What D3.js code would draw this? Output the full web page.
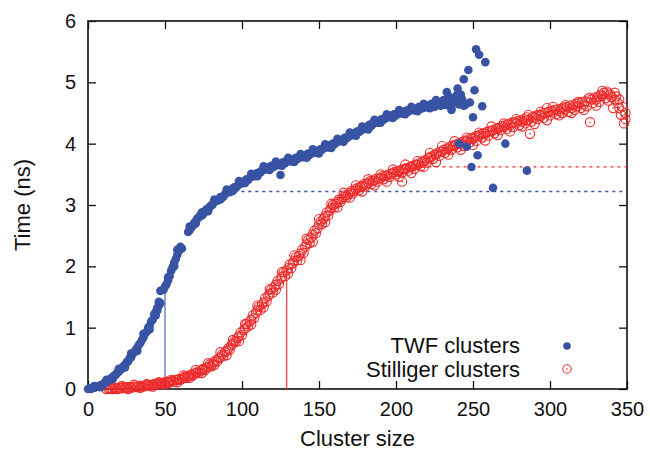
<!DOCTYPE html>
<html>
<head>
<meta charset="utf-8">
<script src="https://cdn.jsdelivr.net/npm/d3@7"></script>
<style>
  body { margin: 0; background: #fff; }
  svg text { font-family: "Liberation Sans", Arial, Helvetica, sans-serif; fill: #111; }
</style>
</head>
<body>
<svg id="chart"></svg>
<script>
// cluster size vs time
const xTicks = [0, 50, 100, 150, 200, 250, 300, 350];
const yTicks = [0, 1, 2, 3, 4, 5, 6];

const seriesNames = ["TWF clusters", "Stilliger clusters"];

const twfPoints = [
  [0,0.00],[1,0.01],[2,0.00],[3,0.02],[4,0.02],[5,0.03],[6,0.04],[7,0.04],[8,0.06],[9,0.07],
  [10,0.08],[11,0.10],[12,0.11],[13,0.14],[14,0.15],[15,0.18],[16,0.19],[17,0.22],[18,0.23],[19,0.27],
  [20,0.28],[21,0.32],[22,0.33],[23,0.37],[24,0.39],[25,0.43],[26,0.45],[27,0.50],[28,0.52],[29,0.57],
  [30,0.60],[31,0.64],[32,0.67],[33,0.72],[34,0.75],[35,0.80],[36,0.84],[37,0.90],[38,0.93],[39,1.00],
  [40,1.03],[41,1.10],[42,1.13],[43,1.22],[44,1.26],[45,1.32],[45,1.28],[46,1.36],[47,1.40],[47,1.60],
  [49,1.62],[50,1.67],[51,1.71],[52,1.77],[53,1.84],[54,1.93],[55,1.99],[56,2.06],[57,2.12],[58,2.19],
  [59,2.25],[60,2.32],[61,2.29],[65,2.56],[66,2.59],[67,2.63],[68,2.66],[69,2.71],[70,2.74],
  [71,2.78],[72,2.80],[73,2.84],[74,2.83],[75,2.86],[76,2.90],[77,2.93],[78,2.93],[79,2.97],[80,2.99],
  [81,3.01],[82,3.05],[83,3.07],[84,3.07],[85,3.09],[86,3.13],[87,3.12],[88,3.14],[89,3.18],[90,3.20],
  [91,3.22],[92,3.21],[93,3.24],[94,3.27],[95,3.29],[96,3.28],[97,3.31],[98,3.34],[99,3.36],[100,3.35],
  [101,3.37],[102,3.40],[103,3.42],[104,3.41],[105,3.44],[106,3.46],[107,3.48],[108,3.47],[109,3.50],[110,3.52],
  [111,3.53],[112,3.53],[113,3.56],[114,3.58],[115,3.59],[116,3.58],[117,3.61],[118,3.62],[119,3.64],[120,3.62],
  [121,3.63],[122,3.66],[123,3.67],[124,3.65],[125,3.49],[126,3.69],[127,3.70],[128,3.68],[129,3.71],[130,3.72],
  [131,3.73],[132,3.71],[133,3.74],[134,3.75],[135,3.77],[136,3.75],[137,3.77],[138,3.78],[139,3.80],[140,3.78],
  [141,3.81],[142,3.82],[143,3.84],[144,3.82],[145,3.84],[146,3.86],[147,3.87],[148,3.85],[149,3.88],[150,3.89],
  [151,3.91],[152,3.90],[153,3.93],[154,3.94],[155,3.95],[156,3.94],[157,3.97],[158,3.98],[159,4.00],[160,3.99],
  [161,4.01],[162,4.03],[163,4.05],[164,4.04],[165,4.06],[166,4.08],[167,4.10],[168,4.09],[169,4.11],[170,4.13],
  [171,4.15],[172,4.14],[173,4.16],[174,4.18],[175,4.20],[176,4.19],[177,4.21],[178,4.23],[179,4.25],[180,4.24],
  [181,4.27],[182,4.29],[183,4.31],[184,4.29],[185,4.32],[186,4.34],[187,4.36],[188,4.34],[189,4.37],[190,4.39],
  [191,4.40],[192,4.39],[193,4.41],[194,4.43],[195,4.45],[196,4.43],[197,4.45],[198,4.47],[199,4.48],[200,4.46],
  [201,4.49],[202,4.50],[203,4.52],[204,4.49],[205,4.51],[206,4.53],[207,4.54],[208,4.52],[209,4.55],[210,4.55],
  [211,4.57],[212,4.54],[213,4.56],[214,4.58],[215,4.60],[216,4.57],[217,4.58],[218,4.60],[219,4.62],[220,4.59],
  [221,4.61],[222,4.63],[223,4.65],[224,4.62],[225,4.60],[226,4.66],[227,4.68],[228,4.64],[229,4.62],[230,4.69],
  [231,4.71],[232,4.63],[233,4.66],[234,4.72],[235,4.75],[236,4.58],[237,4.70],[238,4.74],[239,4.78],[240,4.68],
  [241,4.64],[242,4.76],[243,4.72],[244,4.62],
  // repeat runs, a little off the main band
  [4,0.05],[8,0.03],[12,0.15],[16,0.16],[20,0.33],[24,0.35],[28,0.58],[32,0.62],[36,0.90],[40,0.97],
  [44,1.20],[46,1.42],[52,1.82],[56,2.00],[58,2.27],[66,2.65],[70,2.70],[74,2.88],[78,2.90],[82,3.09],
  [86,3.09],[90,3.25],[94,3.23],[98,3.39],[102,3.36],[106,3.51],[110,3.47],[114,3.63],[118,3.57],[122,3.71],
  [126,3.64],[130,3.77],[134,3.70],[138,3.83],[142,3.77],[146,3.91],[150,3.84],[154,3.99],[158,3.93],[162,4.08],
  [166,4.03],[170,4.18],[174,4.13],[178,4.28],[182,4.23],[186,4.39],[190,4.34],[194,4.48],[198,4.42],[202,4.55],
  [206,4.48],[210,4.60],[214,4.53],[218,4.65],[222,4.58],[226,4.71],[230,4.64],[234,4.77],[238,4.68],[242,4.80],
  // large clusters, few samples
  [233,4.84],[236,4.55],[240,4.90],[241,4.00],[242,4.79],[244,5.05],[245,4.63],[246,3.95],[247,5.20],[248,4.67],
  [249,3.62],[250,4.43],[251,4.87],[252,5.54],[253,3.81],[254,5.45],[256,4.61],[258,5.33],[263,3.28],[271,4.00],
  [285,3.56]
];

const stilPoints = [
  [12,0.00],[13,0.01],[14,0.01],[15,0.01],[16,0.00],[17,0.02],[18,0.01],[19,0.00],[20,0.02],[21,0.02],
  [22,0.01],[23,0.03],[24,0.02],[25,0.02],[26,0.03],[27,0.03],[28,0.02],[29,0.04],[30,0.04],[31,0.03],
  [32,0.03],[33,0.05],[34,0.05],[35,0.04],[36,0.04],[37,0.06],[38,0.06],[39,0.07],[40,0.05],[41,0.06],
  [42,0.07],[43,0.08],[44,0.08],[45,0.09],[46,0.07],[47,0.10],[48,0.09],[49,0.09],[50,0.11],[51,0.12],
  [52,0.10],[53,0.11],[54,0.13],[55,0.14],[56,0.12],[57,0.15],[58,0.15],[59,0.16],[60,0.15],[61,0.17],
  [62,0.18],[63,0.20],[64,0.18],[65,0.20],[66,0.22],[67,0.24],[68,0.22],[69,0.25],[70,0.26],[71,0.28],
  [72,0.26],[73,0.30],[74,0.31],[75,0.33],[76,0.31],[77,0.35],[78,0.36],[79,0.40],[80,0.37],[81,0.41],
  [82,0.44],[83,0.47],[84,0.45],[85,0.50],[86,0.52],[87,0.56],[88,0.54],[89,0.60],[90,0.62],[91,0.66],
  [92,0.64],[93,0.71],[94,0.74],[95,0.78],[96,0.77],[97,0.83],[98,0.86],[99,0.92],[100,0.88],[101,0.96],
  [102,0.99],[103,1.06],[104,1.02],[105,1.10],[106,1.13],[107,1.20],[108,1.16],[109,1.24],[110,1.28],[111,1.34],
  [112,1.29],[113,1.38],[114,1.41],[115,1.48],[116,1.43],[117,1.52],[118,1.55],[119,1.62],[120,1.57],[121,1.66],
  [122,1.70],[123,1.76],[124,1.71],[125,1.80],[126,1.83],[127,1.90],[128,1.84],[129,1.93],[130,1.97],[131,2.03],
  [132,1.97],[133,2.05],[134,2.09],[135,2.15],[136,2.10],[137,2.17],[138,2.21],[139,2.27],[140,2.22],[141,2.32],
  [142,2.36],[143,2.43],[144,2.38],[145,2.47],[146,2.52],[147,2.58],[148,2.54],[149,2.62],[150,2.68],[151,2.73],
  [152,2.69],[153,2.78],[154,2.82],[155,2.88],[156,2.83],[157,2.91],[158,2.95],[159,3.00],[160,2.96],[161,3.02],
  [162,3.05],[163,3.09],[164,3.05],[165,3.10],[166,3.13],[167,3.16],[168,3.13],[169,3.17],[170,3.20],[171,3.23],
  [172,3.19],[173,3.23],[174,3.26],[175,3.28],[176,3.24],[177,3.29],[178,3.31],[179,3.34],[180,3.30],[181,3.34],
  [182,3.36],[183,3.39],[184,3.34],[185,3.39],[186,3.40],[187,3.43],[188,3.38],[189,3.43],[190,3.44],[191,3.47],
  [192,3.42],[193,3.47],[194,3.48],[195,3.50],[196,3.46],[197,3.51],[198,3.52],[199,3.54],[200,3.50],[201,3.55],
  [202,3.55],[203,3.57],[204,3.38],[204,3.53],[205,3.59],[206,3.58],[207,3.60],[208,3.56],[209,3.62],[210,3.62],
  [211,3.64],[212,3.59],[213,3.66],[214,3.65],[215,3.68],[216,3.63],[217,3.71],[218,3.70],[219,3.73],[220,3.69],
  [221,3.77],[222,3.76],[223,3.79],[224,3.75],[225,3.82],[226,3.82],[227,3.85],[228,3.80],[229,3.87],[230,3.87],
  [231,3.90],[232,3.85],[233,3.92],[234,3.92],[235,3.95],[236,3.90],[237,3.97],[238,3.96],[239,3.99],[240,3.94],
  [241,4.01],[242,4.00],[243,4.03],[244,3.96],[245,4.05],[246,4.04],[247,4.07],[248,4.02],[249,4.09],[250,4.08],
  [251,4.11],[252,4.04],[253,4.13],[254,4.12],[255,4.15],[256,4.10],[257,4.17],[258,4.16],[259,4.19],[260,4.13],
  [261,4.21],[262,4.20],[263,4.22],[264,4.17],[265,4.25],[266,4.24],[267,4.26],[268,4.22],[269,4.29],[270,4.27],
  [271,4.30],[272,4.24],[273,4.32],[274,4.30],[275,4.34],[276,4.27],[277,4.35],[278,4.33],[279,4.37],[280,4.30],
  [281,4.38],[282,4.36],[283,4.40],[284,4.33],[285,4.43],[285,4.38],[286,4.39],[287,4.16],[288,4.36],[289,4.44],
  [290,4.42],[291,4.46],[292,4.40],[293,4.47],[294,4.45],[295,4.49],[296,4.42],[297,4.50],[298,4.58],[299,4.52],
  [300,4.46],[301,4.54],[302,4.51],[303,4.55],[304,4.48],[305,4.56],[306,4.53],[307,4.57],[308,4.50],[309,4.59],
  [310,4.56],[311,4.60],[312,4.52],[313,4.62],[314,4.58],[315,4.63],[316,4.55],[317,4.65],[318,4.61],[319,4.66],
  [320,4.58],[321,4.68],[322,4.64],[323,4.69],[324,4.61],[325,4.74],[326,4.35],[327,4.72],[328,4.66],[329,4.75],
  [330,4.72],[331,4.77],[332,4.68],[333,4.80],[334,4.78],[335,4.83],[336,4.74],[337,4.85],[338,4.82],[339,4.80],
  [340,4.76],[341,4.58],[342,4.72],[343,4.77],[344,4.66],[345,4.72],[346,4.47],[347,4.60],[348,4.33],[349,4.50],
  [349,4.40],
  // repeat runs, a little off the main band
  [22,0.05],[26,0.00],[30,0.07],[34,0.02],[38,0.08],[42,0.04],[46,0.11],[50,0.07],[54,0.15],[58,0.11],
  [62,0.22],[66,0.18],[70,0.31],[74,0.26],[78,0.42],[82,0.39],[86,0.60],[90,0.55],[94,0.80],[98,0.78],
  [102,1.06],[106,1.05],[110,1.36],[114,1.33],[118,1.63],[122,1.62],[126,1.91],[130,1.88],[134,2.18],[138,2.10],
  [142,2.45],[146,2.40],[150,2.77],[154,2.72],[158,3.02],[162,2.96],[166,3.20],[170,3.12],[174,3.32],[178,3.22],
  [182,3.42],[186,3.32],[190,3.50],[194,3.38],[198,3.58],[202,3.46],[206,3.66],[210,3.52],[214,3.72],[218,3.62],
  [222,3.85],[226,3.70],[230,3.96],[234,3.82],[238,4.04],[242,3.90],[246,4.10],[250,3.98],[254,4.18],[258,4.05],
  [262,4.28],[266,4.14],[270,4.33],[274,4.20],[278,4.40],[282,4.28],[286,4.47],[290,4.32],[294,4.52],[298,4.38],
  [302,4.60],[306,4.46],[310,4.63],[314,4.50],[318,4.68],[322,4.55],[326,4.75],[330,4.62],[334,4.86],[338,4.70],
  [342,4.83],[345,4.58]
];

// marker lines: [size, time] for the drop lines, plateau levels for the dotted lines
const twfDrop = [[50, 0], [50, 1.62]];
const stilDrop = [[129, 0], [129, 1.80]];
const twfPlateau = [[95, 3.22], [350, 3.22]];
const stilPlateau = [[212, 3.62], [350, 3.62]];

const width = 650, height = 451;
const margin = {top: 21, right: 23, bottom: 62, left: 88};
const blue = "#3953a4", red = "#ee2a2a";

const svg = d3.select("#chart").attr("width", width).attr("height", height);

const x = d3.scaleLinear().domain([0, 350]).range([margin.left, width - margin.right]);
const y = d3.scaleLinear().domain([0, 6]).range([height - margin.bottom, margin.top]);

const line = d3.line().x(d => x(d[0])).y(d => y(d[1]));

// axes, ticks pointing inward on all four sides
const styleAxis = g => {
  g.select(".domain").remove();
  g.selectAll(".tick line").attr("stroke", "#111").attr("stroke-width", 1.3);
  g.selectAll(".tick text").attr("font-size", 20).attr("font-family", "Liberation Sans, Arial, sans-serif").attr("fill", "#111");
};

svg.append("g")
  .attr("transform", `translate(0,${y(0)})`)
  .call(d3.axisBottom(x).tickValues(xTicks).tickSize(-8).tickPadding(13).tickFormat(d3.format("d")))
  .call(styleAxis);

svg.append("g")
  .attr("transform", `translate(0,${y(6)})`)
  .call(d3.axisTop(x).tickValues(xTicks).tickSize(-8).tickFormat(""))
  .call(styleAxis);

svg.append("g")
  .attr("transform", `translate(${x(0)},0)`)
  .call(d3.axisLeft(y).tickValues(yTicks).tickSize(-8).tickPadding(12).tickFormat(d3.format("d")))
  .call(styleAxis);

svg.append("g")
  .attr("transform", `translate(${x(350)},0)`)
  .call(d3.axisRight(y).tickValues(yTicks).tickSize(-8).tickFormat(""))
  .call(styleAxis);

svg.append("rect")
  .attr("x", x(0)).attr("y", y(6))
  .attr("width", x(350) - x(0)).attr("height", y(0) - y(6))
  .attr("fill", "none").attr("stroke", "#111").attr("stroke-width", 1.6);

// guide lines
svg.append("path").datum(twfDrop).attr("d", line)
  .attr("stroke", "#5b70bd").attr("stroke-width", 1.3).attr("fill", "none");
svg.append("path").datum(stilDrop).attr("d", line)
  .attr("stroke", "#f04848").attr("stroke-width", 1.3).attr("fill", "none");
svg.append("path").datum(twfPlateau).attr("d", line)
  .attr("stroke", blue).attr("stroke-width", 1.3).attr("stroke-dasharray", "3,4").attr("fill", "none");
svg.append("path").datum(stilPlateau).attr("d", line)
  .attr("stroke", red).attr("stroke-width", 1.3).attr("stroke-dasharray", "3,4").attr("fill", "none");

// data points
svg.append("g")
  .selectAll("circle")
  .data(stilPoints)
  .join("circle")
  .attr("cx", d => x(d[0]))
  .attr("cy", d => y(d[1]))
  .attr("r", 4.6)
  .attr("fill", "none")
  .attr("stroke", red)
  .attr("stroke-width", 1.1);

svg.append("g")
  .selectAll("circle")
  .data(stilPoints)
  .join("circle")
  .attr("cx", d => x(d[0]))
  .attr("cy", d => y(d[1]))
  .attr("r", 0.8)
  .attr("fill", red);

svg.append("g")
  .selectAll("circle")
  .data(twfPoints)
  .join("circle")
  .attr("cx", d => x(d[0]))
  .attr("cy", d => y(d[1]))
  .attr("r", 4.3)
  .attr("fill", blue);

// legend
const legend = svg.append("g");
legend.append("text")
  .attr("x", 520).attr("y", 353)
  .attr("text-anchor", "end").attr("font-size", 22)
  .text(seriesNames[0]);
legend.append("circle").attr("cx", 567).attr("cy", 346).attr("r", 3.8).attr("fill", blue);
legend.append("text")
  .attr("x", 520).attr("y", 377)
  .attr("text-anchor", "end").attr("font-size", 22)
  .text(seriesNames[1]);
legend.append("circle").attr("cx", 567).attr("cy", 369).attr("r", 4.2)
  .attr("fill", "none").attr("stroke", red).attr("stroke-width", 1.1);
legend.append("circle").attr("cx", 567).attr("cy", 369).attr("r", 0.8).attr("fill", red);

// axis titles
svg.append("text")
  .attr("x", (x(0) + x(350)) / 2).attr("y", 446)
  .attr("text-anchor", "middle").attr("font-size", 22)
  .text("Cluster size");

svg.append("text")
  .attr("transform", `translate(30,${(y(0) + y(6)) / 2}) rotate(-90)`)
  .attr("text-anchor", "middle").attr("font-size", 22)
  .text("Time (ns)");
</script>
</body>
</html>
